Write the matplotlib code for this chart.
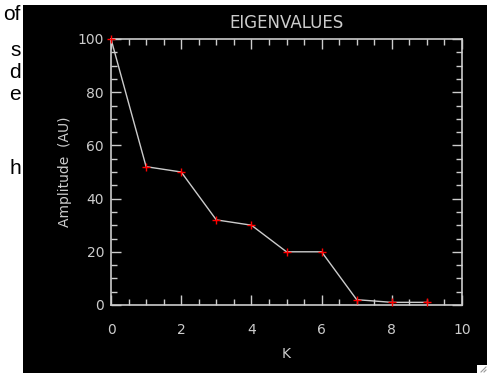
import numpy as np
import matplotlib
matplotlib.use('Agg')
from matplotlib import pyplot as plt
from matplotlib.patches import Rectangle
from matplotlib.lines import Line2D
from matplotlib.ticker import MultipleLocator

# eigenvalue spectrum
k = [0, 1, 2, 3, 4, 5, 6, 7, 8, 9]
amplitude = [100, 52, 50, 32, 30, 20, 20, 2, 1, 1]

# clipped words of the neighbouring document text
side_words = ['of', 's', 'd', 'e', 'h']
side_y = [14, 50, 73, 95, 168]

W, H = 487, 373
fg = '#cccccc'

fig = plt.figure(figsize=(W / 100., H / 100.), dpi=100, facecolor='white')

# black plotting window
fig.patches.append(Rectangle((23. / W, 0), 1 - 23. / W, (H - 5.) / H,
                             transform=fig.transFigure, facecolor='black',
                             edgecolor='none', zorder=-5))

for w, yy in zip(side_words, side_y):
    fig.text(21. / W, 1 - yy / float(H), w, ha='right', va='center',
             fontsize=15, family='Liberation Sans', color='black')

ax = fig.add_axes([111. / W, 1 - 305. / H, 351. / W, 266. / H])
ax.set_zorder(5)
ax.set_facecolor('black')
ax.plot(k, amplitude, color=fg, lw=1, zorder=2)
ax.plot(k, amplitude, '+', color='red', ms=6, mew=1, zorder=3, clip_on=False)

ax.set_xlim(0, 10)
ax.set_ylim(0, 100)
ax.xaxis.set_major_locator(MultipleLocator(2))
ax.xaxis.set_minor_locator(MultipleLocator(0.5))
ax.yaxis.set_major_locator(MultipleLocator(20))
ax.yaxis.set_minor_locator(MultipleLocator(5))
ax.tick_params(which='both', direction='in', top=True, right=True,
               color=fg, width=1, labelcolor=fg, labelsize=10)
ax.tick_params(which='major', length=7)
ax.tick_params(which='minor', length=4)
ax.tick_params(axis='x', which='major', pad=13)
ax.tick_params(axis='y', which='major', pad=5)
for s in ax.spines.values():
    s.set_color(fg)
    s.set_linewidth(1.2)

ax.set_title('EIGENVALUES', color=fg, fontsize=12, pad=8)
ax.set_xlabel('K', color=fg, fontsize=10, labelpad=7)
ax.set_ylabel('Amplitude  (AU)', color=fg, fontsize=10, labelpad=4)

# window resize grip in the corner
fig.patches.append(Rectangle((477. / W, 0), 10. / W, 8. / H,
                             transform=fig.transFigure, facecolor='white',
                             edgecolor='none', zorder=1))
for d in [3, 6]:
    fig.lines.append(Line2D([(487. - d) / W, 486. / W], [1. / H, (d + 0.) / H],
                            transform=fig.transFigure, color='#999999', lw=0.8,
                            zorder=2))

fig.savefig('out.png', dpi=100, facecolor='white')
